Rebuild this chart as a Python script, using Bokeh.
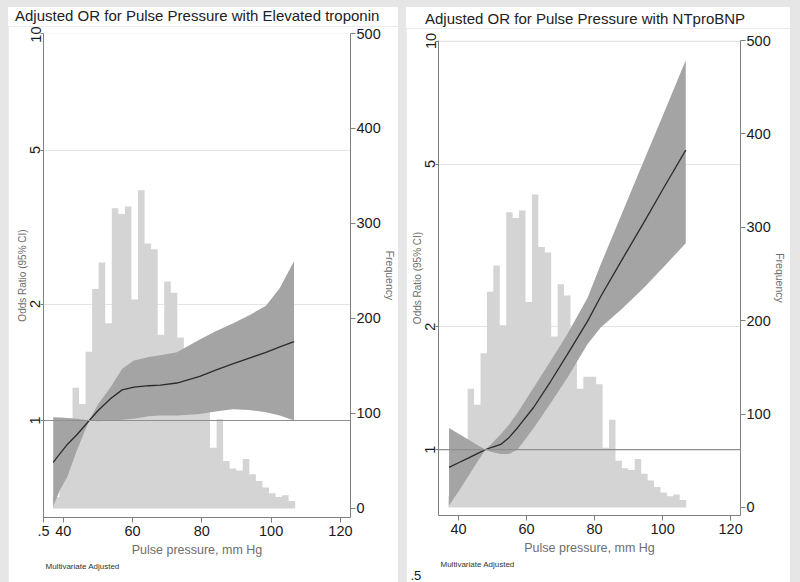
import math
from bokeh.plotting import figure
from bokeh.models import Range1d, LinearAxis, LinearScale, FixedTicker, Title, Span, Div
from bokeh.layouts import row, column
from bokeh.embed import file_html
from bokeh.resources import INLINE

FONT = "Liberation Sans"

# ---- shared histogram of pulse pressure (frequency) ----
bin_edges = [37.00, 38.89, 40.78, 42.67, 44.56, 46.45, 48.34, 50.23, 52.12, 54.01,
             55.90, 57.79, 59.68, 61.57, 63.46, 65.35, 67.24, 69.13, 71.02, 72.91,
             74.80, 76.69, 78.58, 80.47, 82.36, 84.25, 86.14, 88.03, 89.92, 91.81,
             93.70, 95.59, 97.48, 99.37, 101.26, 103.15, 105.04, 106.93]
frequency = [12, 35, 65, 127, 110, 165, 231, 259, 195, 316,
             310, 318, 220, 335, 279, 273, 183, 239, 227, 180,
             127, 140, 140, 132, 64, 94, 50, 42, 40, 52,
             36, 29, 22, 16, 12, 14, 8]

# ---- panel 1: elevated troponin ----
trop_x = [37.1, 39.0, 41.3, 44.0, 47.5, 50.0, 53.7, 57.0, 60.4, 64.7, 68.0, 72.8,
          79.4, 84.0, 88.9, 93.7, 98.5, 102.5, 106.6]
trop_or = [0.78, 0.82, 0.87, 0.92, 1.00, 1.06, 1.14, 1.20, 1.22, 1.23, 1.235, 1.25,
           1.30, 1.35, 1.40, 1.45, 1.50, 1.55, 1.60]
trop_hi = [1.02, 1.018, 1.015, 1.01, 1.00, 1.10, 1.22, 1.36, 1.43, 1.46, 1.475, 1.50,
           1.62, 1.70, 1.78, 1.87, 1.98, 2.20, 2.58]
trop_lo = [0.60, 0.66, 0.72, 0.84, 1.00, 0.995, 1.00, 1.005, 1.01, 1.025, 1.03, 1.03,
           1.04, 1.055, 1.07, 1.065, 1.05, 1.03, 1.00]

# ---- panel 2: NTproBNP ----
bnp_x = [37.2, 40.0, 43.0, 45.5, 47.9, 50.0, 52.4, 54.8, 57.3, 62.1, 67.1, 72.0,
         77.9, 81.8, 88.0, 94.5, 100.5, 106.8]
bnp_or = [0.905, 0.929, 0.955, 0.978, 1.00, 1.015, 1.03, 1.07, 1.13, 1.27, 1.47, 1.71,
          2.06, 2.37, 2.91, 3.60, 4.40, 5.41]
bnp_hi = [1.13, 1.094, 1.057, 1.027, 1.00, 1.04, 1.09, 1.15, 1.23, 1.42, 1.65, 1.92,
          2.35, 2.84, 3.78, 5.10, 6.70, 8.97]
bnp_lo = [0.73, 0.79, 0.865, 0.933, 1.00, 0.985, 0.976, 0.976, 1.00, 1.13, 1.30, 1.50,
          1.81, 1.99, 2.21, 2.49, 2.81, 3.20]

or_ticks = [1, 2, 5, 10]
or_labels = {1: "1", 2: "2", 5: "5", 10: "10"}
or_grid = [2, 5, 10]
freq_ticks = [0, 100, 200, 300, 400, 500]
x_ticks = [40, 60, 80, 100, 120]
half_label = ".5"

# step outline of the histogram (one polygon, so no seams between bars)
hist_x, hist_y = [bin_edges[0]], [0]
for i, f in enumerate(frequency):
    hist_x += [bin_edges[i], bin_edges[i + 1]]
    hist_y += [f, f]
hist_x.append(bin_edges[-1])
hist_y.append(0)


def title_div(text, width, height, pad_left, pad_top):
    html = ('<div style="font-family:\'Liberation Sans\';font-size:15px;color:#222222;'
            'white-space:nowrap;line-height:16px;padding-left:%dpx;padding-top:%dpx">%s</div>'
            % (pad_left, pad_top, text))
    return Div(text=html, width=width, height=height,
               styles={"background-color": "white", "margin": "0px"})


def panel(xs, mid, lo, hi, x_rng, or_rng, freq_rng,
          b_left, f_w, b_right, b_top, f_h, height, note_offset, half_on_axis):
    p = figure(width=b_left + f_w + b_right, height=height,
               x_range=Range1d(*x_rng), y_range=Range1d(*or_rng), y_axis_type="log",
               output_backend="svg", toolbar_location=None,
               min_border_left=b_left, min_border_right=b_right,
               min_border_top=b_top, min_border_bottom=height - b_top - f_h,
               background_fill_color="white", border_fill_color="white")
    p.outline_line_color = None

    p.extra_y_ranges = {"freq": Range1d(*freq_rng)}
    p.extra_y_scales = {"freq": LinearScale()}

    # histogram
    p.patch(hist_x, hist_y, y_range_name="freq", fill_color="#d4d4d4", line_color=None)
    # CI band and fitted OR
    p.varea(x=xs, y1=lo, y2=hi, fill_color="#a4a4a4")
    p.line(xs, mid, line_color="#2b2b2b", line_width=1.3)
    p.add_layout(Span(location=1, dimension="width", line_color="#8f8f8f", line_width=1.2))

    # grids
    p.xgrid.visible = False
    p.ygrid.ticker = FixedTicker(ticks=or_grid)
    p.ygrid.grid_line_color = "#e4e4e4"

    # left OR axis
    ya = p.yaxis[0]
    ya.ticker = FixedTicker(ticks=or_ticks)
    ya.major_label_overrides = or_labels
    ya.major_label_orientation = "vertical"
    ya.axis_label = "Odds Ratio (95% CI)"

    # right frequency axis
    ra = LinearAxis(y_range_name="freq", ticker=FixedTicker(ticks=freq_ticks),
                    axis_label="Frequency")
    p.add_layout(ra, "right")

    xa = p.xaxis[0]
    xa.axis_label = "Pulse pressure, mm Hg"
    if half_on_axis:
        edge = x_rng[0] + 0.01
        xa.ticker = FixedTicker(ticks=[edge] + x_ticks)
        xa.major_label_overrides = {edge: half_label}
    else:
        xa.ticker = FixedTicker(ticks=x_ticks)

    for ax in [ya, ra, xa]:
        ax.axis_line_color = "#808080"
        ax.major_tick_line_color = "#808080"
        ax.minor_tick_line_color = None
        ax.major_tick_out = 5
        ax.major_tick_in = 0
        ax.major_label_text_font = FONT
        ax.major_label_text_font_size = "14.5px"
        ax.major_label_text_color = "#1a1a1a"
        ax.major_label_standoff = 1
        ax.axis_label_text_font = FONT
        ax.axis_label_text_font_style = "normal"
        ax.axis_label_text_color = "#6e6e6e"
        ax.axis_label_standoff = 0
    ya.axis_label_text_font_size = "10px"
    ya.major_tick_out = 3
    ya.major_label_standoff = 0
    ra.axis_label_text_font_size = "10.5px"
    ra.axis_label_orientation = "vertical"
    xa.axis_label_text_font_size = "12.5px"
    xa.axis_label_standoff = 4
    xa.major_label_standoff = 3

    note = Title(text="Multivariate Adjusted", align="left", offset=note_offset,
                 text_font=FONT, text_font_size="8px", text_font_style="normal",
                 text_color="#333333", standoff=0)
    p.add_layout(note, "below")
    if not half_on_axis:
        half = Title(text=half_label, align="left", offset=-28,
                     text_font=FONT, text_font_size="13px", text_font_style="normal",
                     text_color="#1a1a1a", standoff=0)
        p.add_layout(half, "below")
    return p


t1 = title_div("Adjusted OR for Pulse Pressure with Elevated troponin", 390, 19, 7, 1)
p1 = panel(trop_x, trop_or, trop_lo, trop_hi,
           (34.3, 122.9), (0.5616, 10.0), (-9.5, 500),
           35, 309, 46, 7, 484, 556, 2, True)
t2 = title_div("Adjusted OR for Pulse Pressure with NTproBNP", 384, 21, 19, 4)
p2 = panel(bnp_x, bnp_or, bnp_lo, bnp_hi,
           (34.1, 122.9), (0.690, 10.03), (-8.6, 500),
           32, 302, 50, 12, 475, 554, 2, False)

layout = row(column(t1, p1, spacing=0), column(t2, p2, spacing=0), spacing=8,
             styles={"background-color": "#e6e6e6", "position": "absolute",
                     "left": "0px", "top": "0px", "padding": "7px 10px 0px 8px"})
open("out.html", "w").write(file_html(layout, INLINE))
